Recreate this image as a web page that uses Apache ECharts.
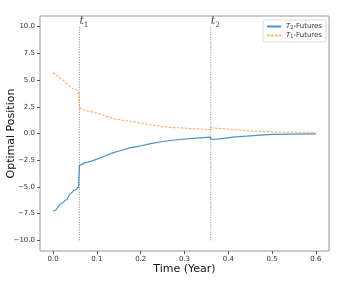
<!DOCTYPE html>
<html><head><meta charset="utf-8">
<script src="https://cdn.jsdelivr.net/npm/echarts@6/dist/echarts.min.js"></script>
<style>html,body{margin:0;padding:0;background:#fff}#c{width:349px;height:286px}</style>
</head><body><div id="c"></div>
<script>
// T2-Futures (blue) : [time, position]
const t2Time = [0,0.007,0.012,0.018,0.024,0.027,0.032,0.037,0.042,0.047,0.052,0.058,0.06,0.06,0.071,0.087,0.102,0.117,0.136,0.155,0.174,0.197,0.22,0.25,0.288,0.326,0.36,0.36,0.38,0.41,0.456,0.5,0.547,0.6];
const t2Vals = [-7.28,-7.13,-6.81,-6.56,-6.44,-6.25,-6.19,-5.72,-5.56,-5.31,-5.25,-5.0,-4.9,-3.0,-2.75,-2.59,-2.38,-2.13,-1.81,-1.59,-1.34,-1.19,-0.97,-0.75,-0.56,-0.44,-0.34,-0.56,-0.5,-0.34,-0.19,-0.09,-0.06,-0.03];
// T1-Futures (orange)
const t1Time = [0,0.005,0.014,0.022,0.03,0.037,0.045,0.052,0.058,0.06,0.06,0.068,0.079,0.094,0.106,0.121,0.14,0.163,0.182,0.197,0.22,0.243,0.273,0.311,0.36,0.36,0.38,0.41,0.456,0.5,0.547,0.6];
const t1Vals = [5.69,5.53,5.22,5.0,4.75,4.44,4.19,4.12,3.87,3.8,2.41,2.25,2.09,2.0,1.84,1.63,1.37,1.22,1.09,1.0,0.84,0.69,0.56,0.47,0.34,0.53,0.47,0.375,0.22,0.16,0.12,0.06];
// event lines
const vlineX = [0.06, 0.36];
const vlineSub = ['1', '2'];
const vlineRange = [-10, 10];
// ticks
const xTicks = [0.0,0.1,0.2,0.3,0.4,0.5,0.6];
const yTicks = [-10,-7.5,-5,-2.5,0,2.5,5,7.5,10];

const fmt = v => v.toFixed(1).replace('-', '\u2212');
const zip = (a,b) => a.map((x,i)=>[x,b[i]]);

const series = [
  {name:'T2', type:'line', data:zip(t2Time,t2Vals), showSymbol:false, symbol:'none',
   lineStyle:{color:'#1f77b4', width:1.2, opacity:0.8}, itemStyle:{color:'#1f77b4'}, z:3},
  {name:'T1', type:'line', data:zip(t1Time,t1Vals), showSymbol:false, symbol:'none',
   lineStyle:{color:'#ff7f0e', width:1.2, type:[2.5,1.5], opacity:0.6}, itemStyle:{color:'#ff7f0e'}, z:3}
];
vlineX.forEach((x,i)=>{
  series.push({type:'line', data:vlineRange.map(v=>[x,v]), showSymbol:false, symbol:'none', silent:true,
    lineStyle:{color:'#888', width:1, type:[1,1.5]}, z:2});
});
series.push({type:'scatter', symbolSize:1, itemStyle:{color:'rgba(0,0,0,0)'}, silent:true,
  data:vlineX.map((x,i)=>({value:[x,vlineRange[1]], sub:vlineSub[i]})),
  label:{show:true, position:'top', align:'left', distance:0,
    formatter:p=>'{t|t}{s|'+p.data.sub+'}',
    rich:{t:{fontFamily:'DejaVu Serif', fontStyle:'italic', fontSize:11, color:'#222', lineHeight:12, verticalAlign:'bottom'},
          s:{fontFamily:'DejaVu Serif', fontSize:7.5, color:'#222', padding:[0,0,-3,0], verticalAlign:'bottom'}}}});

const chart = echarts.init(document.getElementById('c'), null, {renderer:'canvas'});
chart.setOption({
  animation:false,
  backgroundColor:'#fff',
  grid:{left:40, top:16, right:20, bottom:35, show:true, borderColor:'#999', borderWidth:1,
    containLabel:false, outerBoundsMode:'none'},
  legend:{
    data:['T2','T1'], right:23, top:20, orient:'vertical', itemGap:2, itemWidth:14, itemHeight:6,
    padding:[3,4,3,3], borderColor:'#ddd', borderWidth:1, borderRadius:2,
    itemStyle:{color:'rgba(0,0,0,0)', borderWidth:0},
    formatter:n=>'{i|T}{s|'+n.slice(1)+'}{n|-Futures}',
    textStyle:{rich:{i:{fontFamily:'DejaVu Sans', fontStyle:'italic', fontSize:7, color:'#333'},
      s:{fontFamily:'DejaVu Sans', fontSize:5, color:'#333', padding:[0,0,-2,0]},
      n:{fontFamily:'DejaVu Sans', fontSize:7, color:'#333'}}}
  },
  xAxis:{type:'value', min:-0.03, max:0.63, splitLine:{show:false},
    axisLine:{show:false, onZero:false},
    axisTick:{show:true, customValues:xTicks, length:3, inside:false, lineStyle:{color:'#555'}},
    axisLabel:{customValues:xTicks, formatter:fmt, fontFamily:'DejaVu Sans', fontSize:7, color:'#333', margin:5},
    name:'Time (Year)', nameLocation:'middle', nameGap:13, nameMoveOverlap:false,
    nameTextStyle:{fontFamily:'DejaVu Sans', fontSize:11, color:'#111', verticalAlign:'top'}},
  yAxis:{type:'value', min:-11, max:11, splitLine:{show:false},
    axisLine:{show:false, onZero:false},
    axisTick:{show:true, customValues:yTicks, length:3, lineStyle:{color:'#555'}},
    axisLabel:{customValues:yTicks, formatter:fmt, fontFamily:'DejaVu Sans', fontSize:7, color:'#333', margin:5},
    name:'Optimal Position', nameLocation:'middle', nameGap:23, nameMoveOverlap:false,
    nameTextStyle:{fontFamily:'DejaVu Sans', fontSize:11, color:'#111'}},
  series:series
});
</script></body></html>
